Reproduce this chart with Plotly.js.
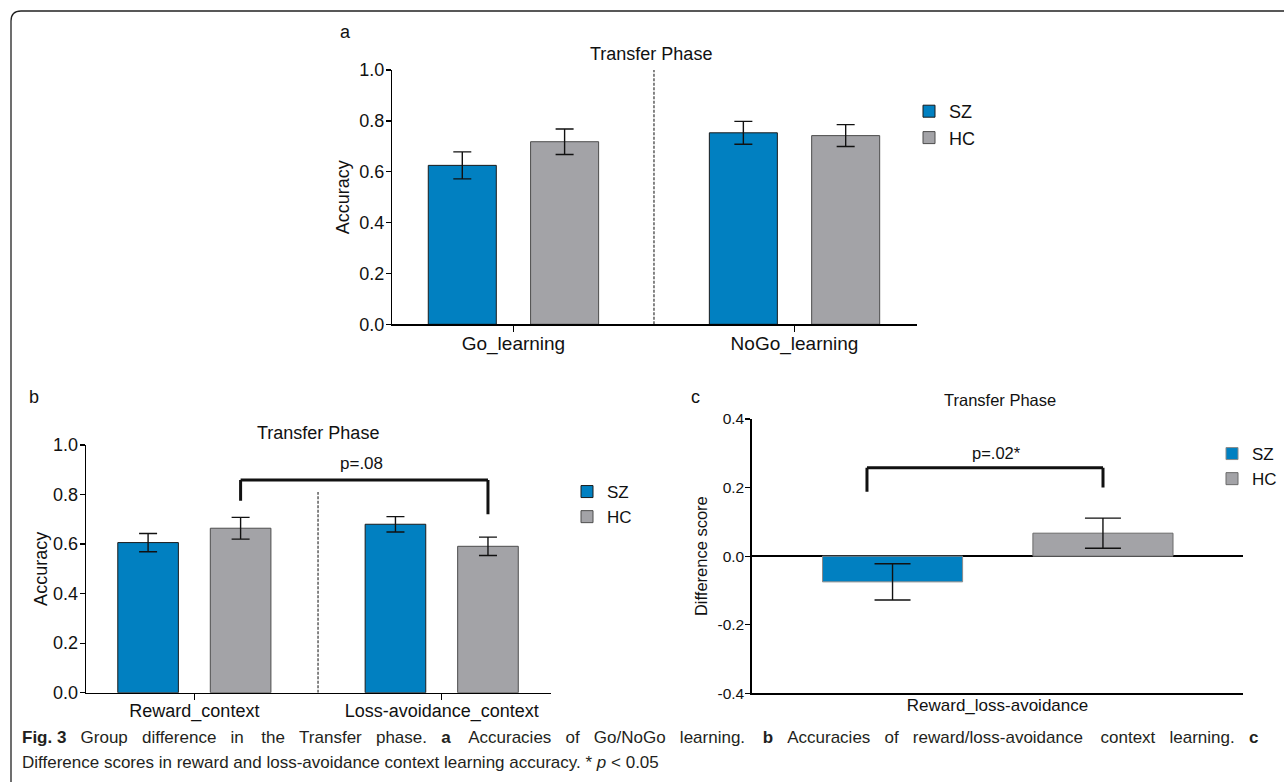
<!DOCTYPE html>
<html>
<head>
<meta charset="utf-8">
<script src="https://cdn.plot.ly/plotly-3.0.1.min.js"></script>
<style>html,body{margin:0;padding:0;background:#fff;}#chart{width:1284px;height:782px;}</style>
</head>
<body>
<div id="chart"></div>
<script>
// ---------- data ----------
const groups = ['SZ', 'HC'];

const categoriesA = ['Go_learning', 'NoGo_learning'];
const szAccA = [0.625, 0.753];
const szErrA = [0.053, 0.045];
const hcAccA = [0.718, 0.742];
const hcErrA = [0.050, 0.043];

const categoriesB = ['Reward_context', 'Loss-avoidance_context'];
const szAccB = [0.606, 0.680];
const szErrB = [0.037, 0.031];
const hcAccB = [0.664, 0.591];
const hcErrB = [0.044, 0.037];

const categoriesC = ['Reward_loss-avoidance'];
const szDiffC = [-0.075];
const szErrC = [0.053];
const hcDiffC = [0.067];
const hcErrC = [0.044];

const accTickVals = [0, 0.2, 0.4, 0.6, 0.8, 1.0];
const accTickText = ['0.0', '0.2', '0.4', '0.6', '0.8', '1.0'];
const diffTickVals = [-0.4, -0.2, 0, 0.2, 0.4];
const diffTickText = ['-0.4', '-0.2', '0.0', '0.2', '0.4'];

const pLabelB = 'p=.08';
const pLabelC = 'p=.02*';
const panelTitle = 'Transfer Phase';

const captionLine1 = ['<b>Fig. 3</b>', 'Group', 'difference', 'in', 'the', 'Transfer', 'phase.', '<b>a</b>', 'Accuracies', 'of',
  'Go/NoGo', 'learning.', '<b>b</b>', 'Accuracies', 'of', 'reward/loss-avoidance', 'context', 'learning.', '<b>c</b>'];
const captionLine2 = 'Difference scores in reward and loss-avoidance context learning accuracy. * <i>p</i> &lt; 0.05';

// ---------- styling helpers ----------
const W = 1284, H = 782;
const px = x => x / W;
const py = y => 1 - y / H;
const FONT = 'Liberation Sans, Arial, Helvetica, sans-serif';
const BLUE = '#0180c1';
const GREY = '#a3a3a7';

function barTrace(name, cats, vals, errs, xa, ya, color, lineColor, offset, width, capHalf, legendId) {
  return {
    type: 'bar', name: name, x: cats, y: vals,
    xaxis: xa, yaxis: ya,
    offset: offset, width: width,
    marker: {color: color, line: {color: lineColor, width: 1}},
    error_y: {type: 'data', array: errs, visible: true, color: '#111', thickness: 1.4, width: capHalf},
    legend: legendId, showlegend: true,
    hoverinfo: 'skip'
  };
}

const data = [
  barTrace(groups[0], categoriesA, szAccA, szErrA, 'x', 'y', BLUE, '#1b1b1b', -0.303, 0.242, 9, 'legend'),
  barTrace(groups[1], categoriesA, hcAccA, hcErrA, 'x', 'y', GREY, '#4d4d4d', 0.061, 0.242, 9, 'legend'),
  barTrace(groups[0], categoriesB, szAccB, szErrB, 'x2', 'y2', BLUE, '#1b1b1b', -0.3095, 0.245, 9, 'legend2'),
  barTrace(groups[1], categoriesB, hcAccB, hcErrB, 'x2', 'y2', GREY, '#4d4d4d', 0.0645, 0.245, 9, 'legend2'),
  barTrace(groups[0], categoriesC, szDiffC, szErrC, 'x3', 'y3', BLUE, '#8a8a8a', -0.356, 0.285, 18, 'legend3'),
  barTrace(groups[1], categoriesC, hcDiffC, hcErrC, 'x3', 'y3', GREY, '#6a6a6a', 0.072, 0.285, 18, 'legend3')
];

function xAxis(domain, anchor, range, showTicks, fontSize, standoff) {
  return {
    domain: domain, anchor: anchor, type: 'category', range: range,
    showline: true, linecolor: '#000', linewidth: 1.4,
    ticks: showTicks ? 'outside' : '', ticklen: 6, tickwidth: 1.3, tickcolor: '#000',
    tickfont: {family: FONT, size: fontSize, color: '#111'},
    ticklabelstandoff: standoff,
    showgrid: false, zeroline: false, fixedrange: true, automargin: false
  };
}
function yAxis(domain, anchor, range, vals, text, tickSize, title, titleSize, standoff) {
  return {
    domain: domain, anchor: anchor, range: range,
    tickvals: vals, ticktext: text,
    showline: true, linecolor: '#000', linewidth: 1.4,
    ticks: 'outside', ticklen: 5, tickwidth: 1.3, tickcolor: '#000',
    tickfont: {family: FONT, size: tickSize, color: '#111'},
    ticklabelstandoff: -2,
    title: {text: title, font: {family: FONT, size: titleSize, color: '#111'}, standoff: standoff},
    showgrid: false, zeroline: false, fixedrange: true, automargin: false
  };
}

const yC = yAxis([py(693.3), py(419)], 'x3', [-0.4, 0.4], diffTickVals, diffTickText, 15.5, 'Difference score', 16.5, 5);
yC.zeroline = true; yC.zerolinecolor = '#000'; yC.zerolinewidth = 1.4;

function legendAt(left, top, size) {
  return {x: px(left), y: py(top), xanchor: 'left', yanchor: 'top',
    font: {family: FONT, size: size, color: '#111'}, bgcolor: 'rgba(0,0,0,0)',
    borderwidth: 0, tracegroupgap: 0, itemclick: false, itemdoubleclick: false};
}

function line(xref, yref, x0, y0, x1, y1, w, color, dash) {
  return {type: 'line', xref: xref, yref: yref, x0: x0, y0: y0, x1: x1, y1: y1,
    line: {color: color || '#000', width: w, dash: dash || 'solid'}};
}

const shapes = [
  // figure frame with rounded corner
  {type: 'path', xref: 'paper', yref: 'paper',
   path: `M ${px(11)},${py(782)} L ${px(11)},${py(21)} Q ${px(11)},${py(11)} ${px(21)},${py(11)} L ${px(1284)},${py(11)}`,
   line: {color: '#222', width: 1.3}},
  // dashed separators
  line('x', 'y', 0.5, 0, 0.5, 1.0, 1.2, '#333', '3px,1.5px'),
  line('x2', 'y2', 0.5, 0, 0.5, 0.81, 1.2, '#333', '3px,1.5px'),
  // bracket b
  line('x2', 'y2', 0.187, 0.775, 0.187, 0.859, 3, '#111'),
  line('x2', 'y2', 0.187, 0.859, 1.187, 0.859, 3, '#111'),
  line('x2', 'y2', 1.187, 0.859, 1.187, 0.72, 3, '#111'),
  // bracket c
  line('x3', 'y3', -0.2655, 0.1875, -0.2655, 0.258, 3, '#111'),
  line('x3', 'y3', -0.2655, 0.258, 0.2146, 0.258, 3, '#111'),
  line('x3', 'y3', 0.2146, 0.258, 0.2146, 0.20, 3, '#111')
];

function txt(x, y, text, size, opts) {
  return Object.assign({xref: 'paper', yref: 'paper', x: px(x), y: py(y), text: text,
    showarrow: false, xanchor: 'center', yanchor: 'middle',
    font: {family: FONT, size: size, color: '#111'}}, opts || {});
}

// justified first caption line: widen word gaps
const justified = captionLine1.map((w, i) => i === 0 ? w : ((i % 4 === 0 ? ' &#160;&#160;&#8201;' : ' &#160;&#160;') + w)).join('');
const capFont = {family: FONT, size: 17, color: '#231f20'};
const annotations = [
  txt(346, 32, 'a', 18),
  txt(34, 397, 'b', 18),
  txt(696, 397, 'c', 18),
  txt(651, 54, panelTitle, 18),
  txt(318, 433, panelTitle, 18),
  txt(1000, 400, panelTitle, 16.5),
  txt(361, 463, pLabelB, 17),
  txt(997, 453, pLabelC, 16.5),
  txt(20, 737, justified, 17, {xanchor: 'left', font: capFont}),
  txt(20, 762, captionLine2, 17, {xanchor: 'left', font: capFont})
];

const layout = {
  width: W, height: H,
  margin: {l: 0, r: 0, t: 0, b: 0, pad: 0},
  paper_bgcolor: '#fff', plot_bgcolor: 'rgba(0,0,0,0)',
  barmode: 'overlay',
  font: {family: FONT, color: '#111'},
  xaxis: xAxis([px(392.3), px(916.5)], 'y', [-0.431, 1.434], true, 19, -5),
  yaxis: yAxis([py(324.3), py(70)], 'x', [0, 1], accTickVals, accTickText, 18, 'Accuracy', 18, 5),
  xaxis2: xAxis([px(86), px(550.7)], 'y2', [-0.438, 1.4406], true, 18, -5),
  yaxis2: yAxis([py(692.7), py(445)], 'x2', [0, 1], accTickVals, accTickText, 18, 'Accuracy', 18, 0),
  xaxis3: xAxis([px(751.7), px(1243.3)], 'y3', [-0.5, 0.5], false, 17, -4),
  yaxis3: yC,
  legend: legendAt(909, 93, 18),
  legend2: legendAt(567, 474, 17),
  legend3: legendAt(1212, 436, 17),
  shapes: shapes,
  annotations: annotations
};

Plotly.newPlot('chart', data, layout, {displayModeBar: false, staticPlot: true});
</script>
</body>
</html>
